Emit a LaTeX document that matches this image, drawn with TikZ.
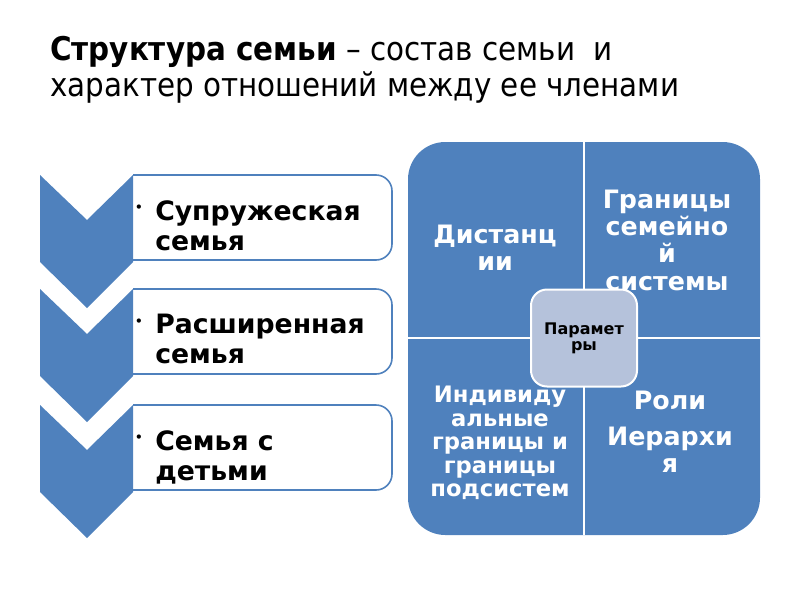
\documentclass[tikz,border=0pt]{standalone}
\usepackage{fontspec}
\setmainfont{DejaVu Sans}
\newfontfamily\titlefont{DejaVu Sans Condensed}
\usetikzlibrary{positioning}
\definecolor{chevblue}{HTML}{4F81BD}
\definecolor{parfill}{HTML}{B5C2DB}

\tikzset{
  kind/.style={draw=chevblue, line width=1.2pt, rounded corners=12},
  kindtext/.style={anchor=north west, inner sep=0pt, align=left,
    font=\bfseries\fontsize{20}{22.5}\selectfont},
  dot/.style={inner sep=0pt, font=\fontsize{11}{11}\selectfont},
  quad/.style={text=white, align=center, inner sep=0pt,
    font=\bfseries\fontsize{19}{20.5}\selectfont},
}

\begin{document}
\begin{tikzpicture}[x=0.75pt, y=-0.75pt]
\useasboundingbox (0,0) rectangle (800,600);

% title
\node[anchor=north west, inner sep=0pt, align=left,
  font=\titlefont\fontsize{24.5}{27}\selectfont] (title) at (50,36)
  {\textbf{Структура семьи} – состав семьи\ \ и\\характер отношений между ее членами};

% left: chevrons and boxes
\foreach \y/\nm in {175/one, 289/two, 405/three} {
  \draw[kind] (133,\y) -- (392,\y) -- (392,\y+85) -- (133,\y+85);
  \fill[chevblue] (40,\y) -- (87,\y+45) -- (133,\y) -- (133,\y+87)
    -- (87,\y+133) -- (40,\y+87) -- cycle;
  \node[dot] (b\nm) at (139,\y+34) {•};
}
\node[kindtext] (k1) at (155,200) {Супружеская\\семья};
\node[kindtext] (k2) at (155,314) {Расширенная\\семья};
\node[kindtext] (k3) at (155,430) {Семья с\\детьми};

% right: parameters
\fill[chevblue, rounded corners=28] (408,142) rectangle (760,535);
\draw[white, line width=1.5pt] (584,142) -- (584,535);
\draw[white, line width=1.5pt] (408,338) -- (760,338);

\node[quad] (dist) at (495,248) {Дистанц\\ии};
\node[quad] (gran) at (667,240) {Границы\\семейно\\й\\системы};
\node[quad, font=\bfseries\fontsize{17}{17.6}\selectfont] (indiv) at (500,443)
  {Индивиду\\альные\\границы и\\границы\\подсистем};
\node[quad] (roli) at (670,432) {Роли\\[6pt]Иерархи\\я};

\node[draw=white, line width=1.5pt, fill=parfill, rounded corners=12,
  minimum width=0.75*106pt, minimum height=0.75*97pt, align=center,
  font=\bfseries\fontsize{12}{12}\selectfont] (par) at (584,338) {Парамет\\ры};
\end{tikzpicture}
\end{document}
